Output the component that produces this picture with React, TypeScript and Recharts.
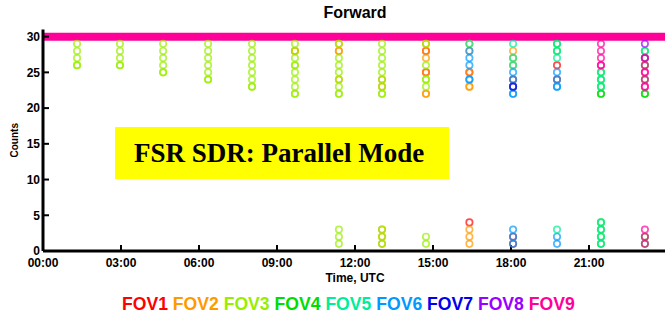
import React from 'react';
import {
  ScatterChart,
  Scatter,
  XAxis,
  YAxis,
  ReferenceLine,
} from 'recharts';

// ---- data (time in hours UTC, count) ----
const FOV_NAMES = ['FOV1', 'FOV2', 'FOV3', 'FOV4', 'FOV5', 'FOV6', 'FOV7', 'FOV8', 'FOV9'];
const FOV_COLORS = ['#ff0000', '#ff9900', '#99ee00', '#00dd00', '#00ee99', '#0099ff', '#0000ee', '#9900ff', '#ff0099'];

const X_TICKS = [0, 3, 6, 9, 12, 15, 18, 21];
const Y_TICKS = [0, 5, 10, 15, 20, 25, 30];
const SATURATION_COUNT = 30;

const FOV1: [number, number][] = [
  [14.73, 28], [14.73, 25], [16.4, 25], [16.4, 4], [18.08, 24], [18.08, 23], [18.08, 2], [18.08, 1],
  [19.77, 26], [19.77, 24],
];
const FOV2: [number, number][] = [
  [9.69, 28], [9.69, 28], [11.38, 29], [11.38, 28], [11.38, 28], [11.38, 24],
  [13.04, 24], [13.04, 23], [13.04, 3], [13.04, 2], [13.04, 1],
  [14.73, 29], [14.73, 28], [14.73, 27], [14.73, 25], [14.73, 22], [14.73, 22],
  [16.4, 29], [16.4, 28], [16.4, 25], [16.4, 23], [16.4, 23], [16.4, 3], [16.4, 2], [16.4, 1],
  [18.08, 28], [18.08, 27], [18.08, 26],
];
const FOV3: [number, number][] = [
  [1.31, 29], [1.31, 28], [1.31, 27], [1.31, 26], [1.31, 26],
  [2.96, 29], [2.96, 28], [2.96, 27], [2.96, 26], [2.96, 26],
  [4.62, 29], [4.62, 28], [4.62, 27], [4.62, 26], [4.62, 25], [4.62, 25],
  [6.35, 29], [6.35, 28], [6.35, 27], [6.35, 26], [6.35, 25], [6.35, 24], [6.35, 24],
  [8.04, 29], [8.04, 28], [8.04, 27], [8.04, 26], [8.04, 25], [8.04, 24], [8.04, 23], [8.04, 23],
  [9.69, 29], [9.69, 28], [9.69, 27], [9.69, 26], [9.69, 26], [9.69, 25], [9.69, 24], [9.69, 23], [9.69, 22], [9.69, 22],
  [11.38, 29], [11.38, 27], [11.38, 26], [11.38, 25], [11.38, 24], [11.38, 23], [11.38, 22], [11.38, 22],
  [11.38, 3], [11.38, 2], [11.38, 1],
  [13.04, 29], [13.04, 28], [13.04, 27], [13.04, 26], [13.04, 25], [13.04, 24], [13.04, 23], [13.04, 22], [13.04, 22],
  [13.04, 3], [13.04, 2], [13.04, 1],
  [14.73, 29], [14.73, 26], [14.73, 24], [14.73, 24], [14.73, 23], [14.73, 2], [14.73, 1],
];
const FOV4: [number, number][] = [
  [19.77, 29], [19.77, 28],
  [21.46, 25], [21.46, 24], [21.46, 23], [21.46, 22], [21.46, 22], [21.46, 4], [21.46, 3], [21.46, 2], [21.46, 1],
  [23.15, 28], [23.15, 27], [23.15, 26], [23.15, 24], [23.15, 22], [23.15, 22], [23.15, 2], [23.15, 1],
];
const FOV5: [number, number][] = [
  [16.4, 29],
  [18.08, 29], [18.08, 27], [18.08, 26],
  [19.77, 29], [19.77, 28], [19.77, 27], [19.77, 3],
  [21.46, 25], [21.46, 24], [21.46, 23], [21.46, 4], [21.46, 3], [21.46, 2], [21.46, 1],
  [23.15, 28],
];
const FOV6: [number, number][] = [
  [16.4, 28], [16.4, 27], [16.4, 26], [16.4, 24], [16.4, 24],
  [18.08, 25], [18.08, 24], [18.08, 23], [18.08, 22], [18.08, 22], [18.08, 3], [18.08, 2], [18.08, 1],
  [19.77, 25], [19.77, 24], [19.77, 23], [19.77, 23], [19.77, 2], [19.77, 1],
];
const FOV7: [number, number][] = [[18.08, 23]];
const FOV8: [number, number][] = [[23.15, 29], [23.15, 27]];
const FOV9: [number, number][] = [
  [21.46, 29], [21.46, 28], [21.46, 27], [21.46, 26], [21.46, 26],
  [23.15, 27], [23.15, 26], [23.15, 25], [23.15, 25], [23.15, 24], [23.15, 23], [23.15, 23],
  [23.15, 3], [23.15, 2], [23.15, 1],
];

const FOV_DATA = [FOV1, FOV2, FOV3, FOV4, FOV5, FOV6, FOV7, FOV8, FOV9];

const fmtTime = (h: number) => `${String(Math.floor(h)).padStart(2, '0')}:00`;

const SANS = '"Liberation Sans", Arial, Helvetica, sans-serif';

const ring = (color: string) => (props: any) => {
  const { cx, cy } = props;
  if (cx == null || cy == null) return <g />;
  return (
    <circle cx={cx} cy={cy} r={3.2} fill="none" stroke={color} strokeWidth={1.7} strokeOpacity={0.7} />
  );
};

const tickStyle = { fontSize: 12, fontWeight: 'bold', fill: '#000', fontFamily: SANS };

export default function App() {
  return (
    <div
      style={{
        position: 'absolute',
        left: 0,
        top: 0,
        width: 665,
        height: 318,
        overflow: 'hidden',
        background: '#fff',
        fontFamily: SANS,
      }}
    >
      <div
        style={{
          position: 'absolute',
          left: 0,
          top: 4,
          width: 710,
          textAlign: 'center',
          fontSize: 16,
          fontWeight: 'bold',
          lineHeight: '18px',
          color: '#000',
        }}
      >
        Forward
      </div>
      <ScatterChart width={680} height={318} margin={{ top: 29.5, right: 13, bottom: 31, left: 0 }}>
        <XAxis
          xAxisId="bottom"
          type="number"
          dataKey="t"
          domain={[0, 24]}
          ticks={X_TICKS}
          tickFormatter={fmtTime}
          orientation="bottom"
          height={36}
          tickSize={-6}
          tickMargin={13}
          axisLine={{ stroke: '#000', strokeWidth: 3 }}
          tickLine={{ stroke: '#000', strokeWidth: 2 }}
          tick={tickStyle}
          interval={0}
          allowDataOverflow
          label={{
            value: 'Time, UTC',
            position: 'insideBottom',
            offset: 5,
            style: { fontSize: 12, fontWeight: 'bold', fill: '#000', fontFamily: SANS },
          }}
        />
        <XAxis
          xAxisId="top"
          type="number"
          dataKey="t"
          domain={[0, 24]}
          ticks={X_TICKS}
          tickFormatter={() => ''}
          orientation="top"
          height={0}
          tickSize={-5}
          axisLine={{ stroke: '#222', strokeWidth: 2 }}
          tickLine={{ stroke: '#000', strokeWidth: 2 }}
          allowDataOverflow
        />
        <YAxis
          yAxisId="left"
          type="number"
          dataKey="c"
          domain={[0, 31]}
          ticks={Y_TICKS}
          width={43}
          tickSize={-6}
          tickMargin={9}
          axisLine={{ stroke: '#000', strokeWidth: 3 }}
          tickLine={{ stroke: '#000', strokeWidth: 2 }}
          tick={tickStyle}
          interval={0}
          allowDataOverflow
          label={{
            value: 'Counts',
            angle: -90,
            position: 'center',
            dx: -7,
            style: { fontSize: 10, fontWeight: 'bold', fill: '#000', fontFamily: SANS },
          }}
        />
        <YAxis
          yAxisId="right"
          type="number"
          dataKey="c"
          domain={[0, 31]}
          ticks={Y_TICKS}
          orientation="right"
          width={0}
          tickSize={-6}
          tickFormatter={() => ''}
          axisLine={{ stroke: '#222', strokeWidth: 2 }}
          tickLine={{ stroke: '#000', strokeWidth: 2 }}
          allowDataOverflow
        />
        {FOV_DATA.map((pts, i) => (
          <Scatter
            key={FOV_NAMES[i]}
            name={FOV_NAMES[i]}
            xAxisId="bottom"
            yAxisId="left"
            data={pts.map(([t, c]) => ({ t, c }))}
            shape={ring(FOV_COLORS[i])}
            isAnimationActive={false}
          />
        ))}
        <ReferenceLine
          xAxisId="bottom"
          yAxisId="left"
          y={SATURATION_COUNT}
          stroke={FOV_COLORS[8]}
          strokeWidth={8}
        />
      </ScatterChart>

      <div
        style={{
          position: 'absolute',
          left: 115,
          top: 127,
          width: 334,
          height: 52,
          background: '#ffff00',
          fontFamily: '"Liberation Serif", "Times New Roman", serif',
          fontWeight: 'bold',
          fontSize: 27,
          lineHeight: '52px',
          color: '#000',
          paddingLeft: 19,
          boxSizing: 'border-box',
          whiteSpace: 'nowrap',
        }}
      >
        FSR SDR: Parallel Mode
      </div>

      <div
        style={{
          position: 'absolute',
          left: 122,
          top: 293,
          fontSize: 17.6,
          fontWeight: 'bold',
          lineHeight: '22px',
          whiteSpace: 'nowrap',
        }}
      >
        {FOV_NAMES.map((n, i) => (
          <span key={n} style={{ color: FOV_COLORS[i] }}>
            {n}
            {i < FOV_NAMES.length - 1 ? ' ' : ''}
          </span>
        ))}
      </div>
    </div>
  );
}
